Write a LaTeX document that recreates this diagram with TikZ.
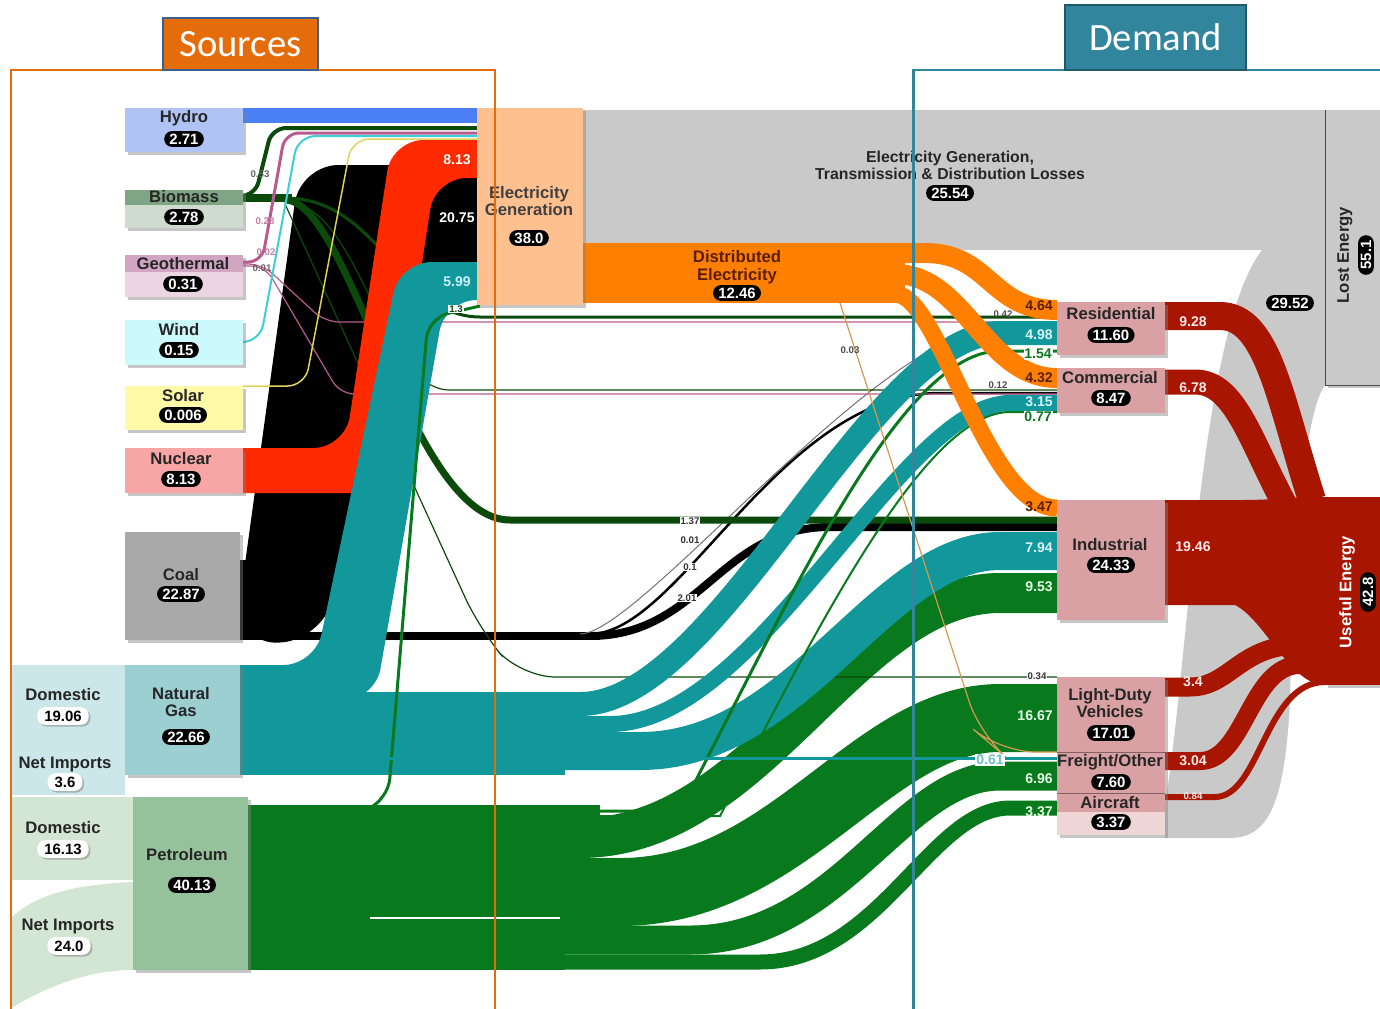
\documentclass[tikz,border=0pt]{standalone}
\usepackage{fontspec}
\setmainfont{Liberation Sans}
\newfontfamily\calfont{Carlito}
\usetikzlibrary{shadows}

\definecolor{hydroblue}{HTML}{4A7FF5}
\definecolor{hydrobox}{HTML}{AFC4F5}
\definecolor{biodark}{HTML}{0B4A0B}
\definecolor{biostrip}{HTML}{7FA584}
\definecolor{biobox}{HTML}{D0DBD0}
\definecolor{geoline}{HTML}{B85C8F}
\definecolor{geostrip}{HTML}{D2A5C2}
\definecolor{geobox}{HTML}{EBD5E2}
\definecolor{windline}{HTML}{3CCFD8}
\definecolor{windbox}{HTML}{CCF9FC}
\definecolor{solarline}{HTML}{E2D35A}
\definecolor{solarbox}{HTML}{FFFAA8}
\definecolor{nucred}{HTML}{FF2A00}
\definecolor{nucbox}{HTML}{F8A5A5}
\definecolor{coalbox}{HTML}{A9A9A9}
\definecolor{gasteal}{HTML}{12979B}
\definecolor{gasbox}{HTML}{9BCFD2}
\definecolor{gassrc}{HTML}{CBE7E9}
\definecolor{petgreen}{HTML}{087A1D}
\definecolor{petbox}{HTML}{96C29B}
\definecolor{petsrc}{HTML}{D3E5D3}
\definecolor{genbox}{HTML}{FFC08F}
\definecolor{distorange}{HTML}{FF7F00}
\definecolor{lossgray}{HTML}{C9C9C9}
\definecolor{demandpink}{HTML}{D9A1A3}
\definecolor{usered}{HTML}{A81500}
\definecolor{srcorange}{HTML}{E46C0A}
\definecolor{srcedge}{HTML}{3A5F8B}
\definecolor{demteal}{HTML}{31859C}
\definecolor{demedge}{HTML}{215968}
\definecolor{tanline}{HTML}{D09A50}
\definecolor{darkbrown}{HTML}{5A1E05}

\newcommand\boxfont{\fontsize{9.5}{10}\selectfont\bfseries}
\newcommand\tagfont{\fontsize{8.5}{9}\selectfont\bfseries}
\newcommand\valfont{\fontsize{8}{9}\selectfont\bfseries}
\newcommand\minifont{\fontsize{5.5}{6}\selectfont\bfseries}

\tikzset{
  bw/.style={line width=#1*0.569pt},
  boxshadow/.style={drop shadow={shadow xshift=1.5pt,shadow yshift=-1.5pt,opacity=0.45}},
  boxlbl/.style={font=\boxfont, text=black!85, inner sep=0pt, align=center},
  valtag/.style={fill=black, text=white, font=\tagfont, rounded corners=4.5pt, inner xsep=3pt, inner ysep=0pt, minimum height=9pt},
  srctag/.style={fill=white, text=black, font=\tagfont, rounded corners=4.5pt, inner xsep=4pt, inner ysep=0pt, minimum height=10pt, drop shadow={shadow xshift=1pt,shadow yshift=-1pt,opacity=0.5}},
  flowval/.style={font=\valfont, inner sep=0pt},
  minilbl/.style={font=\minifont, inner sep=0.6pt},
}

\begin{document}
\begin{tikzpicture}[x=0.02cm, y=-0.02cm]
\useasboundingbox (0,0) rectangle (1380,1008);

% losses behind everything
\fill[lossgray] (583,110) rectangle (1325,250);
\fill[lossgray] (1165,805) .. controls (1190,650) and (1200,330) .. (1262,250) -- (1325,250) -- (1325,385) .. controls (1300,420) and (1292,600) .. (1290,700) .. controls (1285,800) and (1270,838) .. (1230,838) -- (1165,838) -- cycle;

% gas and oil supply
\fill[gassrc] (11,665) rectangle (125,795);
\fill[petsrc] (11,797) rectangle (133,880);
\fill[petsrc] (133,882) .. controls (60,885) and (30,900) .. (11,918) -- (11,1008) .. controls (50,985) and (90,970) .. (133,970) -- cycle;

% petroleum
\fill[petgreen] (248,805) rectangle (565,970);
\fill[petgreen] (560,805) rectangle (600,820);
\draw[petgreen, bw=40] (560,838) -- (580,838) .. controls (760,838) and (850,593) .. (1000,593) -- (1057,593);
\draw[petgreen, bw=68] (560,892) -- (620,892) .. controls (790,892) and (870,718) .. (1000,718) -- (1057,718);
\draw[petgreen, bw=29] (560,940) -- (690,940) .. controls (840,940) and (900,776) .. (1000,776) -- (1057,776);
\draw[petgreen, bw=15] (560,962) -- (760,962) .. controls (880,962) and (930,808) .. (1010,808) -- (1057,808);
\draw[white, bw=1.5] (370,918) -- (560,918);

% coal to end use
\draw[black, bw=8] (240,636) -- (600,636);
\draw[black, bw=8] (590,636) .. controls (700,636) and (720,527) .. (830,527) -- (1057,527);
\draw[black, bw=2.5] (590,634) .. controls (680,634) and (780,393) .. (940,393) -- (1057,393);
\draw[black!55, bw=1] (580,634) .. controls (640,634) and (880,328) .. (1000,326) -- (1057,326);

% coal to power
\fill[black, rounded corners=22pt] (240,645) -- (240,600) -- (300,165) -- (520,165) -- (520,262) -- (430,262) -- (345,560) -- (320,640) -- cycle;
\fill[black] (240,560) rectangle (290,640);

% renewables and biomass
\draw[biodark, bw=8] (243,198) -- (292,198);
\draw[biodark, bw=4, rounded corners=8pt] (243,196) -- (255,196) -- (272,128) -- (477,128);
\draw[biodark, bw=3] (285,198) .. controls (380,198) and (400,317) .. (480,317) -- (1057,317);
\draw[biodark, bw=7] (285,200) .. controls (350,200) and (410,520) .. (510,520) -- (1057,520);
\draw[biodark, bw=1.2] (285,202) .. controls (360,202) and (380,390) .. (450,390) -- (1057,390);
\draw[biodark, bw=1.2, rounded corners=20pt] (285,204) -- (480,630) -- (520,677) -- (1057,677);
\draw[geoline, bw=3, rounded corners=8pt] (243,262) -- (262,262) -- (285,133) -- (477,133);
\draw[geoline, bw=1.2, rounded corners=8pt] (243,264) -- (262,264) -- (325,322) -- (1057,322);
\draw[geoline, bw=1.2, rounded corners=8pt] (243,266) -- (265,266) -- (340,394) -- (1057,394);
\draw[windline, bw=2, rounded corners=10pt] (243,342) -- (260,342) -- (298,136) -- (477,136);
\draw[solarline, bw=1.5, rounded corners=10pt] (243,386) -- (305,386) -- (352,139) -- (477,139);

% natural gas
\fill[gasteal] (240,692) rectangle (565,775);
\draw[gasteal, bw=24] (560,704) -- (580,704) .. controls (720,704) and (870,333) .. (1000,333) -- (1057,333);
\draw[gasteal, bw=16] (560,724) -- (610,724) .. controls (760,724) and (900,403) .. (1010,403) -- (1057,403);
\draw[gasteal, bw=38] (560,751) -- (640,751) .. controls (800,751) and (880,551) .. (1000,551) -- (1057,551);

% nuclear, gas to power, hydro
\fill[nucred, rounded corners=18pt] (200,448) -- (345,448) -- (392,140) -- (520,140) -- (520,178) -- (435,178) -- (387,493) -- (200,493) -- cycle;
\fill[gasteal, rounded corners=18pt] (200,665) -- (315,665) -- (400,262) -- (520,262) -- (520,300) -- (445,300) -- (375,700) -- (200,700) -- cycle;
\fill[hydroblue] (243,108) rectangle (477,123);

% thin petroleum lines
\draw[petgreen, bw=3, rounded corners=12pt] (372,807) -- (388,800) -- (428,318) -- (480,306);
\draw[petgreen, bw=3] (590,811) -- (680,811) .. controls (790,600) and (900,351) .. (1000,351) -- (1057,351);
\draw[petgreen, bw=2] (590,816) -- (720,816) .. controls (830,600) and (930,412) .. (1010,412) -- (1057,412);

% distributed electricity
\fill[distorange] (583,243) rectangle (905,303);
\draw[distorange, bw=20] (895,253) -- (925,253) .. controls (990,253) and (990,310) .. (1057,310);
\draw[distorange, bw=20] (895,274) .. controls (965,274) and (985,378) .. (1057,378);
\draw[distorange, bw=17] (880,294) -- (895,294) .. controls (940,294) and (985,508) .. (1057,508);
\draw[tanline, bw=1.2, rounded corners=20pt] (840,303) -- (980,735) -- (1000,752) -- (1057,752);
\draw[gasteal, bw=3] (240,758) -- (1057,758);

% useful energy flows
\fill[usered] (1165,500) -- (1240,500) .. controls (1275,500) and (1295,497) .. (1325,497) -- (1325,685) .. controls (1290,685) and (1265,620) .. (1235,605) -- (1165,605) -- cycle;
\draw[usered, bw=28] (1165,316) -- (1220,316) .. controls (1268,316) and (1280,400) .. (1312,500);
\draw[usered, bw=25] (1165,382) -- (1195,382) .. controls (1235,382) and (1250,440) .. (1285,505);
\draw[usered, bw=19] (1165,687) -- (1190,687) .. controls (1230,687) and (1240,645) .. (1300,645);
\draw[usered, bw=18] (1165,761) -- (1200,761) .. controls (1245,761) and (1250,665) .. (1300,665);
\draw[usered, bw=6] (1165,797) -- (1215,797) .. controls (1260,797) and (1265,682) .. (1325,682);

% boxes
\fill[hydrobox, boxshadow] (125,108) rectangle (243,152);
\fill[biobox, boxshadow] (125,190) rectangle (243,228);
\fill[biostrip] (125,190) rectangle (243,205);
\fill[geobox, boxshadow] (125,255) rectangle (243,297);
\fill[geostrip] (125,255) rectangle (243,272);
\fill[windbox, boxshadow] (125,320) rectangle (243,365);
\fill[solarbox, boxshadow] (125,386) rectangle (243,430);
\fill[nucbox, boxshadow] (125,448) rectangle (243,493);
\fill[coalbox, boxshadow] (125,532) rectangle (240,640);
\fill[gasbox, boxshadow] (125,665) rectangle (240,775);
\fill[petbox, boxshadow] (133,797) rectangle (248,970);
\fill[genbox, boxshadow] (477,108) rectangle (583,305);
\fill[lossgray, boxshadow] (1325,110) rectangle (1380,385);
\draw[gray!60!black] (1325,110) -- (1325,385) -- (1380,385);
\fill[usered, boxshadow] (1325,497) rectangle (1380,685);
\fill[demandpink, boxshadow] (1057,302) rectangle (1165,355);
\fill[demandpink, boxshadow] (1057,368) rectangle (1165,413);
\fill[demandpink, boxshadow] (1057,500) rectangle (1165,620);
\fill[demandpink, boxshadow] (1057,677) rectangle (1165,835);
\fill[demandpink!45] (1057,812) rectangle (1165,835);
\draw[demandpink!60!black] (1057,752) -- (1165,752) (1057,793) -- (1165,793);

% source labels
\node[boxlbl] (hydro) at (184,118) {Hydro};
\node[valtag] (hydroval) at (184,139) {2.71};
\node[boxlbl] (biomass) at (184,197) {Biomass};
\node[valtag] (biomassval) at (184,217) {2.78};
\node[boxlbl] (geo) at (183,264) {Geothermal};
\node[valtag] (geoval) at (183,284) {0.31};
\node[boxlbl] (wind) at (179,330) {Wind};
\node[valtag] (windval) at (179,350) {0.15};
\node[boxlbl] (solar) at (183,396) {Solar};
\node[valtag] (solarval) at (183,415) {0.006};
\node[boxlbl] (nuclear) at (181,459) {Nuclear};
\node[valtag] (nuclearval) at (181,479) {8.13};
\node[boxlbl] (coal) at (181,575) {Coal};
\node[valtag] (coalval) at (181,594) {22.87};
\node[boxlbl] (gas) at (181,702) {Natural\\Gas};
\node[valtag] (gasval) at (186,737) {22.66};
\node[boxlbl] (petrol) at (187,855) {Petroleum};
\node[valtag] (petrolval) at (192,885) {40.13};
\node[boxlbl] (gasdom) at (63,695) {Domestic};
\node[srctag] (gasdomval) at (63,716) {19.06};
\node[boxlbl] (gasimp) at (65,764) {Net Imports};
\node[srctag] (gasimpval) at (65,782) {3.6};
\node[boxlbl] (petdom) at (63,828) {Domestic};
\node[srctag] (petdomval) at (63,849) {16.13};
\node[boxlbl] (petimp) at (68,926) {Net Imports};
\node[srctag] (petimpval) at (69,946) {24.0};

% generation and losses
\node[boxlbl, text=black!75] (elecgen) at (529,201) {Electricity\\Generation};
\node[valtag] (elecgenval) at (529,238) {38.0};
\node[boxlbl, text=darkbrown] (distel) at (737,267) {Distributed\\Electricity};
\node[valtag] (distelval) at (737,293) {12.46};
\node[boxlbl, font=\fontsize{9}{9.8}\selectfont\bfseries] (losses) at (950,165) {Electricity Generation,\\Transmission \& Distribution Losses};
\node[valtag] (lossesval) at (950,193) {25.54};
\node[valtag] (demloss) at (1290,303) {29.52};
\node[boxlbl, rotate=90] (lost) at (1345,255) {Lost Energy};
\node[valtag, rotate=90] (lostval) at (1366,255) {55.1};
\node[boxlbl, rotate=90, text=white] (useful) at (1347,592) {Useful Energy};
\node[valtag, rotate=90] (usefulval) at (1368,592) {42.8};

% demand labels
\node[boxlbl] (resid) at (1111,314) {Residential};
\node[valtag] (residval) at (1111,335) {11.60};
\node[boxlbl] (comm) at (1110,378) {Commercial};
\node[valtag] (commval) at (1111,398) {8.47};
\node[boxlbl] (indus) at (1110,545) {Industrial};
\node[valtag] (indusval) at (1111,565) {24.33};
\node[boxlbl] (ldv) at (1110,703) {Light-Duty\\Vehicles};
\node[valtag] (ldvval) at (1111,733) {17.01};
\node[boxlbl] (freight) at (1110,762) {Freight/Other};
\node[valtag] (freightval) at (1111,782) {7.60};
\node[boxlbl] (air) at (1110,803) {Aircraft};
\node[valtag] (airval) at (1111,822) {3.37};

% flow values
\node[flowval, text=white] (v813) at (457,160) {8.13};
\node[flowval, text=white] (v2075) at (457,218) {20.75};
\node[flowval, text=cyan!20] (v599) at (457,282) {5.99};
\node[minilbl, text=black!60] (v053) at (260,174) {0.53};
\node[minilbl, text=geoline!80] (v028) at (265,221) {0.28};
\node[minilbl, text=geoline!80] (v002) at (266,252) {0.02};
\node[minilbl, text=black!60] (v001g) at (262,268) {0.01};
\node[minilbl, fill=white, text=petgreen!60!black] (v13) at (456,309) {1.3};
\node[minilbl, fill=white, text=black!80] (v137) at (690,521) {1.37};
\node[minilbl, fill=white, text=black!80] (v001) at (690,540) {0.01};
\node[minilbl, fill=white, text=black!80] (v01) at (690,567) {0.1};
\node[minilbl, fill=white, text=black!80] (v201) at (687,598) {2.01};
\node[minilbl, text=black!70] (v003) at (850,350) {0.03};
\node[minilbl, text=black!70] (v042) at (1003,314) {0.42};
\node[minilbl, text=black!70] (v012) at (998,385) {0.12};
\node[minilbl, fill=white, text=black!80] (v034) at (1037,676) {0.34};
\node[flowval, text=gasteal!60, fill=white, inner sep=0.5pt] (v061) at (990,760) {0.61};
\node[flowval, text=darkbrown, anchor=east] (v464) at (1053,306) {4.64};
\node[flowval, text=cyan!15, anchor=east] (v498) at (1053,335) {4.98};
\node[flowval, text=petgreen, fill=white, inner sep=0.5pt, anchor=east] (v154) at (1053,354) {1.54};
\node[flowval, text=darkbrown, anchor=east] (v432) at (1053,378) {4.32};
\node[flowval, text=cyan!15, anchor=east] (v315) at (1053,402) {3.15};
\node[flowval, text=petgreen, fill=white, inner sep=0.5pt, anchor=east] (v077) at (1053,417) {0.77};
\node[flowval, text=darkbrown, anchor=east] (v347) at (1053,507) {3.47};
\node[flowval, text=cyan!15, anchor=east] (v794) at (1053,548) {7.94};
\node[flowval, text=green!10, anchor=east] (v953) at (1053,587) {9.53};
\node[flowval, text=green!10, anchor=east] (v1667) at (1053,716) {16.67};
\node[flowval, text=green!10, anchor=east] (v696) at (1053,779) {6.96};
\node[flowval, text=green!10, anchor=east] (v337) at (1053,812) {3.37};
\node[flowval, text=red!10] (v928) at (1193,322) {9.28};
\node[flowval, text=red!10] (v678) at (1193,388) {6.78};
\node[flowval, text=red!10] (v1946) at (1193,547) {19.46};
\node[flowval, text=red!10] (v34) at (1193,682) {3.4};
\node[flowval, text=red!10] (v304) at (1193,761) {3.04};
\node[flowval, text=red!10, font=\minifont] (v084) at (1193,796) {0.84};

% frames
\draw[srcorange, line width=1.7pt] (495,1012) -- (495,70) -- (11,70) -- (11,1012);
\draw[demteal, line width=1.7pt] (1385,70) -- (913,70) -- (913,1012);
\node[draw=srcedge, fill=srcorange, line width=1.2pt, text=white, font=\calfont\fontsize{22}{24}\selectfont, minimum width=3.1cm, minimum height=1.04cm, inner sep=0pt] (sources) at (240.5,44) {Sources};
\node[draw=demedge, fill=demteal, line width=1.2pt, text=white, font=\calfont\fontsize{22}{24}\selectfont, minimum width=3.62cm, minimum height=1.3cm, inner sep=0pt] (demand) at (1155.5,37.5) {Demand};
\end{tikzpicture}
\end{document}
